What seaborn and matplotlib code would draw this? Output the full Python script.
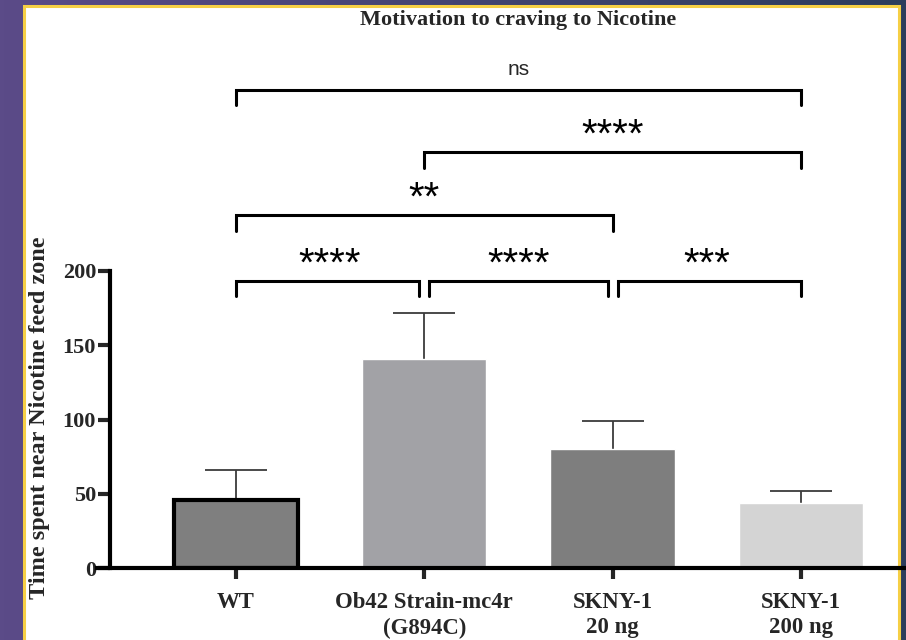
"""Bar chart: time spent near the nicotine feed zone, with significance brackets."""
import numpy as np
import pandas as pd
import seaborn as sns
from matplotlib import pyplot as plt
from matplotlib.patches import Rectangle

groups = ["WT", "Ob42 Strain-mc4r\n(G894C)", "SKNY-1\n20 ng", "SKNY-1\n200 ng"]
mean_time = [46, 141, 80, 44]
sem_time = [20, 31, 19, 8]
bar_colors = ["#7f7f7f", "#a2a2a6", "#7e7e7e", "#d4d4d4"]

# (left group, right group, label) and bracket heights in data units
comparisons = [(0, 1, "****"), (1, 2, "****"), (2, 3, "***"),
               (0, 2, "**"), (1, 3, "****"), (0, 3, "ns")]
bracket_y = [193.5, 193.5, 193.5, 237.5, 280, 322]

W, H = 906, 640


def main() -> None:
    sns.set_style("ticks")
    plt.rcParams["font.family"] = ["Liberation Serif", "DejaVu Serif"]
    plt.rcParams["font.weight"] = "bold"

    fig = plt.figure(figsize=(W / 100, H / 100), dpi=100)

    # slide background + white panel with yellow frame
    bg = fig.add_axes([0, 0, 1, 1], zorder=0)
    bg.set_axis_off()
    left_c = np.array([91, 75, 136]) / 255
    right_c = np.array([45, 61, 92]) / 255
    t = np.linspace(0, 1, 256)[None, :, None]
    grad = left_c * (1 - t) + right_c * t
    bg.imshow(np.repeat(grad, 2, axis=0), aspect="auto", extent=[0, 1, 0, 1])
    bg.set_xlim(0, 1)
    bg.set_ylim(0, 1)
    bg.add_patch(Rectangle((24 / W, -0.05), (899 - 24) / W, 1.05 - 6 / H,
                           facecolor="white", edgecolor="#f6cf45", lw=2.2,
                           clip_on=False))

    ax = fig.add_axes([97 / W, (H - 568) / H, (W - 97) / W, (568 - 271) / H], zorder=1)
    ax.patch.set_alpha(0)

    df = pd.DataFrame({"group": groups, "time": mean_time})
    sns.barplot(data=df, x="group", y="time", hue="group", palette=bar_colors,
                width=0.66, saturation=1, errorbar=None, legend=False, ax=ax, zorder=2)
    wt_bar = ax.patches[0]
    wt_bar.set_edgecolor("black")
    wt_bar.set_linewidth(3)

    # upper-only SEM bars
    _, caps, _ = ax.errorbar(range(len(groups)), mean_time,
                             yerr=[np.zeros(len(groups)), sem_time],
                             fmt="none", ecolor="#3c3c3c", elinewidth=1.3,
                             capsize=22, capthick=1.3, zorder=1)
    for cap in caps:
        if np.allclose(cap.get_ydata(), mean_time):
            cap.set_visible(False)

    ax.set_xlim(-0.738, 3.558)
    ax.set_ylim(0, 200)
    ax.set_yticks([0, 50, 100, 150, 200])
    sns.despine(ax=ax)
    ax.spines["left"].set_position(("data", -0.669))
    for side in ("left", "bottom"):
        ax.spines[side].set_linewidth(3)
        ax.spines[side].set_color("black")
    ax.tick_params(axis="y", length=9, width=3, pad=1, labelsize=16)
    ax.tick_params(axis="x", length=8, width=3, pad=9, labelsize=16.4)
    ax.set_xlabel("")
    ax.set_ylabel("")
    for lab in ax.get_xticklabels():
        lab.set_linespacing(1.3)

    fig.text(40 / W, 1 - 418 / H, "Time spent near Nicotine feed zone",
             rotation=90, ha="center", va="center", fontsize=17.5)
    fig.text(518 / W, 1 - 20 / H, "Motivation to craving to Nicotine",
             ha="center", va="center", fontsize=16)

    # significance brackets
    drop = 10.5
    gap = 0.027
    for (i, j, label), y in zip(comparisons, bracket_y):
        shared = [(a, b) for (a, b, _), yy in zip(comparisons, bracket_y) if yy == y]
        x1 = i + gap if any(b == i for a, b in shared) else i
        x2 = j - gap if any(a == j for a, b in shared) else j
        ax.plot([x1, x1, x2, x2], [y - drop, y, y, y - drop], color="black",
                lw=2.2, clip_on=False, solid_joinstyle="miter", zorder=3)
        xm = (i + j) / 2
        if label == "ns":
            ax.text(xm, y + 14, label, ha="center", va="center", fontsize=15,
                    family=["Liberation Sans"], fontweight="normal", clip_on=False)
        else:
            ax.text(xm, y + 3.5, label, ha="center", va="baseline", fontsize=29,
                    family=["Liberation Sans"], fontweight="normal",
                    color="black", clip_on=False)

    fig.savefig("out.png", dpi=100)
    plt.close(fig)


if __name__ == "__main__":
    main()
